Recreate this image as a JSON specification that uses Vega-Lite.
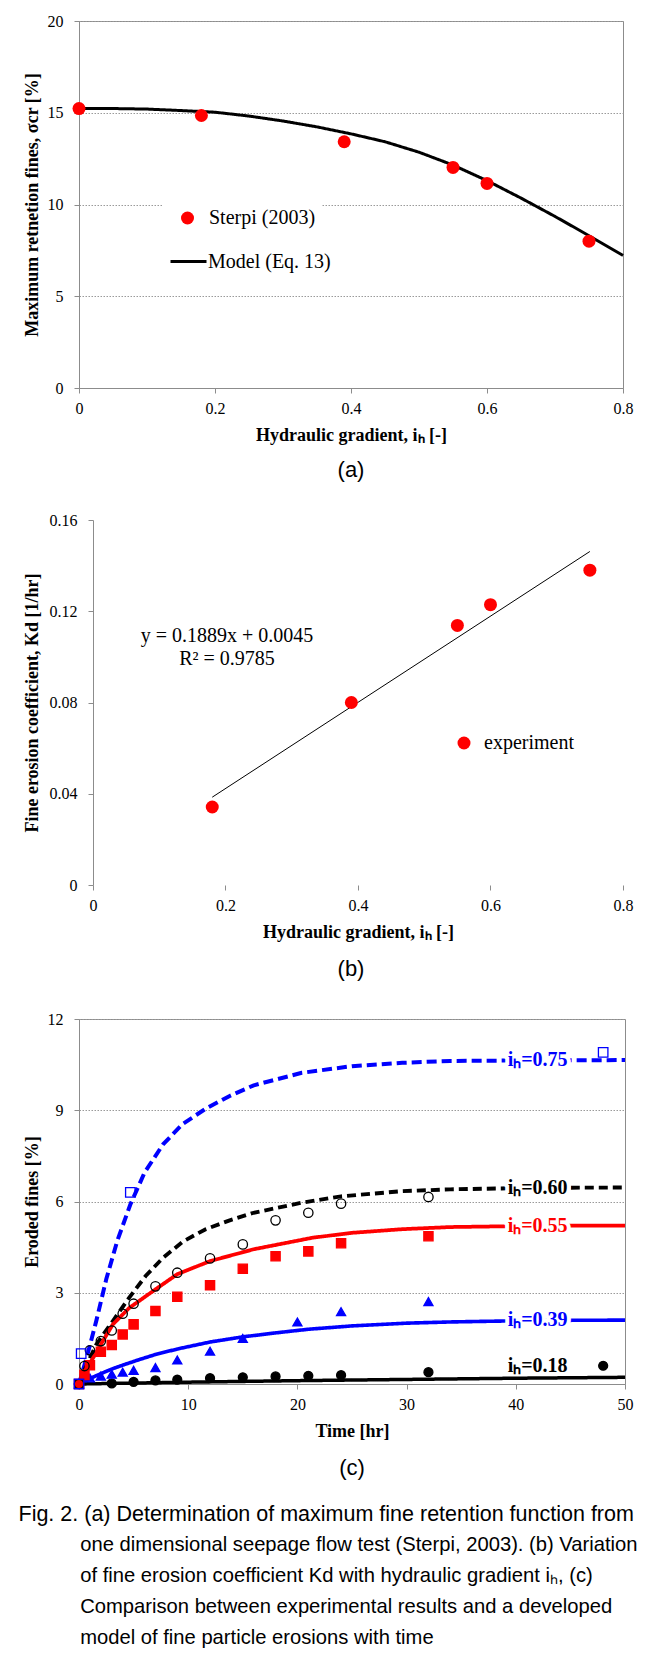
{
  "$schema": "https://vega.github.io/schema/vega-lite/v6.json",
  "background": "white",
  "padding": {"left": 18, "top": 12, "right": 0, "bottom": 0},
  "spacing": 30,
  "columns": 1,
  "resolve": {
    "scale": {"color": "independent", "fill": "independent", "stroke": "independent", "shape": "independent", "size": "independent", "strokeDash": "independent", "strokeWidth": "independent"},
    "legend": {"color": "independent", "strokeDash": "independent", "fill": "independent", "stroke": "independent", "shape": "independent", "size": "independent", "strokeWidth": "independent"}
  },
  "config": {
    "view": {"stroke": "#8c8c8c", "strokeWidth": 1},
    "axis": {
      "labelFont": "Liberation Serif", "labelFontSize": 16, "labelColor": "#000000",
      "titleFont": "Liberation Serif", "titleFontSize": 18, "titleFontWeight": "bold", "titleColor": "#000000",
      "domainColor": "#8c8c8c", "tickColor": "#8c8c8c", "tickSize": 5,
      "gridColor": "#9a9a9a", "gridDash": [1.5, 1.5], "labelFlush": false, "labelOverlap": false
    },
    "axisY": {"grid": true, "labelPadding": 11},
    "axisX": {"grid": false, "labelPadding": 7, "titlePadding": 10},
    "title": {"font": "Liberation Sans", "fontSize": 22, "fontWeight": "normal", "color": "#000000"}
  },
  "title": {
    "text": "Fig. 2. (a) Determination of maximum fine retention function from",
    "subtitle": [
      "\u200b\u00a0\u00a0\u00a0\u00a0\u00a0\u00a0\u00a0\u00a0\u00a0\u00a0\u00a0one dimensional seepage flow test (Sterpi, 2003). (b) Variation",
      "\u200b\u00a0\u00a0\u00a0\u00a0\u00a0\u00a0\u00a0\u00a0\u00a0\u00a0\u00a0of fine erosion coefficient Kd with hydraulic gradient iₕ, (c)",
      "\u200b\u00a0\u00a0\u00a0\u00a0\u00a0\u00a0\u00a0\u00a0\u00a0\u00a0\u00a0Comparison between experimental results and a developed",
      "\u200b\u00a0\u00a0\u00a0\u00a0\u00a0\u00a0\u00a0\u00a0\u00a0\u00a0\u00a0model of fine particle erosions with time"
    ],
    "orient": "bottom", "anchor": "start", "frame": "bounds", "offset": 24, "dx": -4, "fontSize": 21.5, "align": "left",
    "subtitleFont": "Liberation Sans", "subtitleFontSize": 20.2, "subtitleColor": "#000000", "subtitleLineHeight": 31, "subtitlePadding": 10
  },
  "datasets": {
    "a_pts": [
      {"ih": 0, "sigma": 15.23, "series": "Sterpi (2003)"},
      {"ih": 0.18, "sigma": 14.85, "series": "Sterpi (2003)"},
      {"ih": 0.39, "sigma": 13.42, "series": "Sterpi (2003)"},
      {"ih": 0.55, "sigma": 12.02, "series": "Sterpi (2003)"},
      {"ih": 0.6, "sigma": 11.15, "series": "Sterpi (2003)"},
      {"ih": 0.75, "sigma": 8.0, "series": "Sterpi (2003)"}
    ],
    "a_model": [
      {"ih": 0, "sigma": 15.24, "series": "Model (Eq. 13)"}, {"ih": 0.05, "sigma": 15.23, "series": "Model (Eq. 13)"},
      {"ih": 0.1, "sigma": 15.2, "series": "Model (Eq. 13)"}, {"ih": 0.15, "sigma": 15.12, "series": "Model (Eq. 13)"},
      {"ih": 0.2, "sigma": 15.03, "series": "Model (Eq. 13)"}, {"ih": 0.25, "sigma": 14.82, "series": "Model (Eq. 13)"},
      {"ih": 0.3, "sigma": 14.55, "series": "Model (Eq. 13)"}, {"ih": 0.35, "sigma": 14.23, "series": "Model (Eq. 13)"},
      {"ih": 0.4, "sigma": 13.85, "series": "Model (Eq. 13)"}, {"ih": 0.45, "sigma": 13.42, "series": "Model (Eq. 13)"},
      {"ih": 0.5, "sigma": 12.85, "series": "Model (Eq. 13)"}, {"ih": 0.55, "sigma": 12.15, "series": "Model (Eq. 13)"},
      {"ih": 0.6, "sigma": 11.3, "series": "Model (Eq. 13)"}, {"ih": 0.65, "sigma": 10.35, "series": "Model (Eq. 13)"},
      {"ih": 0.7, "sigma": 9.35, "series": "Model (Eq. 13)"}, {"ih": 0.75, "sigma": 8.3, "series": "Model (Eq. 13)"},
      {"ih": 0.8, "sigma": 7.22, "series": "Model (Eq. 13)"}
    ],
    "b_pts": [
      {"ih": 0.18, "kd": 0.0342, "series": "experiment"},
      {"ih": 0.39, "kd": 0.080, "series": "experiment"},
      {"ih": 0.55, "kd": 0.1138, "series": "experiment"},
      {"ih": 0.6, "kd": 0.1229, "series": "experiment"},
      {"ih": 0.75, "kd": 0.138, "series": "experiment"}
    ],
    "b_fit": [
      {"ih": 0.18, "kd": 0.0385},
      {"ih": 0.75, "kd": 0.1462}
    ],
    "b_notes": [
      {"ih": 0.2023, "kd": 0.1092, "note": "y = 0.1889x + 0.0045"},
      {"ih": 0.2023, "kd": 0.0991, "note": "R² = 0.9785"}
    ],
    "c_notes": [
      {"t": 42, "eroded": 0.59, "note": "iₕ=0.18"}
    ],
    "c_model": [
      {"series": "iₕ=0.75", "t": 0, "eroded": 0}, {"series": "iₕ=0.75", "t": 0.8, "eroded": 1.0},
      {"series": "iₕ=0.75", "t": 1.6, "eroded": 2.1}, {"series": "iₕ=0.75", "t": 2.5, "eroded": 3.45},
      {"series": "iₕ=0.75", "t": 3.5, "eroded": 4.7}, {"series": "iₕ=0.75", "t": 4.7, "eroded": 5.9},
      {"series": "iₕ=0.75", "t": 6, "eroded": 6.95}, {"series": "iₕ=0.75", "t": 7.7, "eroded": 7.88},
      {"series": "iₕ=0.75", "t": 9.5, "eroded": 8.55}, {"series": "iₕ=0.75", "t": 11.6, "eroded": 9.05},
      {"series": "iₕ=0.75", "t": 13.8, "eroded": 9.47}, {"series": "iₕ=0.75", "t": 16, "eroded": 9.82},
      {"series": "iₕ=0.75", "t": 20.4, "eroded": 10.23}, {"series": "iₕ=0.75", "t": 25, "eroded": 10.45},
      {"series": "iₕ=0.75", "t": 29.6, "eroded": 10.56}, {"series": "iₕ=0.75", "t": 34, "eroded": 10.62},
      {"series": "iₕ=0.75", "t": 42, "eroded": 10.64}, {"series": "iₕ=0.75", "t": 50, "eroded": 10.65},

      {"series": "iₕ=0.60", "t": 0, "eroded": 0}, {"series": "iₕ=0.60", "t": 0.5, "eroded": 0.45},
      {"series": "iₕ=0.60", "t": 1, "eroded": 0.85}, {"series": "iₕ=0.60", "t": 1.6, "eroded": 1.31},
      {"series": "iₕ=0.60", "t": 3.1, "eroded": 2.07}, {"series": "iₕ=0.60", "t": 4.6, "eroded": 2.84},
      {"series": "iₕ=0.60", "t": 6.1, "eroded": 3.55}, {"series": "iₕ=0.60", "t": 7.7, "eroded": 4.15},
      {"series": "iₕ=0.60", "t": 9.5, "eroded": 4.68}, {"series": "iₕ=0.60", "t": 11.6, "eroded": 5.09},
      {"series": "iₕ=0.60", "t": 13.8, "eroded": 5.38}, {"series": "iₕ=0.60", "t": 16, "eroded": 5.63},
      {"series": "iₕ=0.60", "t": 20.4, "eroded": 5.96}, {"series": "iₕ=0.60", "t": 24, "eroded": 6.17},
      {"series": "iₕ=0.60", "t": 29.6, "eroded": 6.34}, {"series": "iₕ=0.60", "t": 34, "eroded": 6.4},
      {"series": "iₕ=0.60", "t": 42, "eroded": 6.45}, {"series": "iₕ=0.60", "t": 50, "eroded": 6.46},

      {"series": "iₕ=0.55", "t": 0, "eroded": 0}, {"series": "iₕ=0.55", "t": 0.5, "eroded": 0.4},
      {"series": "iₕ=0.55", "t": 1.3, "eroded": 0.86}, {"series": "iₕ=0.55", "t": 2, "eroded": 1.3},
      {"series": "iₕ=0.55", "t": 3.1, "eroded": 1.96}, {"series": "iₕ=0.55", "t": 4.6, "eroded": 2.5},
      {"series": "iₕ=0.55", "t": 7, "eroded": 3.11}, {"series": "iₕ=0.55", "t": 9, "eroded": 3.61},
      {"series": "iₕ=0.55", "t": 12, "eroded": 4.04}, {"series": "iₕ=0.55", "t": 16, "eroded": 4.43},
      {"series": "iₕ=0.55", "t": 21.4, "eroded": 4.81}, {"series": "iₕ=0.55", "t": 25, "eroded": 4.97},
      {"series": "iₕ=0.55", "t": 29.6, "eroded": 5.09}, {"series": "iₕ=0.55", "t": 34, "eroded": 5.16},
      {"series": "iₕ=0.55", "t": 42, "eroded": 5.2}, {"series": "iₕ=0.55", "t": 50, "eroded": 5.21},

      {"series": "iₕ=0.39", "t": 0, "eroded": 0}, {"series": "iₕ=0.39", "t": 1, "eroded": 0.18},
      {"series": "iₕ=0.39", "t": 2, "eroded": 0.34}, {"series": "iₕ=0.39", "t": 3, "eroded": 0.49},
      {"series": "iₕ=0.39", "t": 4, "eroded": 0.62}, {"series": "iₕ=0.39", "t": 5.5, "eroded": 0.8},
      {"series": "iₕ=0.39", "t": 7, "eroded": 0.97}, {"series": "iₕ=0.39", "t": 9, "eroded": 1.15},
      {"series": "iₕ=0.39", "t": 12, "eroded": 1.38}, {"series": "iₕ=0.39", "t": 15, "eroded": 1.55},
      {"series": "iₕ=0.39", "t": 18, "eroded": 1.68}, {"series": "iₕ=0.39", "t": 21, "eroded": 1.8},
      {"series": "iₕ=0.39", "t": 25, "eroded": 1.91}, {"series": "iₕ=0.39", "t": 30, "eroded": 2.0},
      {"series": "iₕ=0.39", "t": 34, "eroded": 2.04}, {"series": "iₕ=0.39", "t": 42, "eroded": 2.09},
      {"series": "iₕ=0.39", "t": 50, "eroded": 2.1},

      {"series": "iₕ=0.18", "t": 0, "eroded": 0}, {"series": "iₕ=0.18", "t": 5, "eroded": 0.03},
      {"series": "iₕ=0.18", "t": 10, "eroded": 0.06}, {"series": "iₕ=0.18", "t": 20, "eroded": 0.11},
      {"series": "iₕ=0.18", "t": 30, "eroded": 0.15}, {"series": "iₕ=0.18", "t": 40, "eroded": 0.19},
      {"series": "iₕ=0.18", "t": 50, "eroded": 0.22}
    ],
    "c_pts": [
      {"series": "iₕ=0.18", "t": 0, "eroded": 0}, {"series": "iₕ=0.18", "t": 3, "eroded": 0.02},
      {"series": "iₕ=0.18", "t": 5, "eroded": 0.07}, {"series": "iₕ=0.18", "t": 7, "eroded": 0.12},
      {"series": "iₕ=0.18", "t": 9, "eroded": 0.14}, {"series": "iₕ=0.18", "t": 12, "eroded": 0.19},
      {"series": "iₕ=0.18", "t": 15, "eroded": 0.22}, {"series": "iₕ=0.18", "t": 18, "eroded": 0.25},
      {"series": "iₕ=0.18", "t": 21, "eroded": 0.27}, {"series": "iₕ=0.18", "t": 24, "eroded": 0.29},
      {"series": "iₕ=0.18", "t": 32, "eroded": 0.39}, {"series": "iₕ=0.18", "t": 48, "eroded": 0.6},

      {"series": "iₕ=0.39", "t": 0, "eroded": 0}, {"series": "iₕ=0.39", "t": 1, "eroded": 0.2},
      {"series": "iₕ=0.39", "t": 2, "eroded": 0.26}, {"series": "iₕ=0.39", "t": 3, "eroded": 0.32},
      {"series": "iₕ=0.39", "t": 4, "eroded": 0.39}, {"series": "iₕ=0.39", "t": 5, "eroded": 0.45},
      {"series": "iₕ=0.39", "t": 7, "eroded": 0.54}, {"series": "iₕ=0.39", "t": 9, "eroded": 0.79},
      {"series": "iₕ=0.39", "t": 12, "eroded": 1.08}, {"series": "iₕ=0.39", "t": 15, "eroded": 1.5},
      {"series": "iₕ=0.39", "t": 20, "eroded": 2.04}, {"series": "iₕ=0.39", "t": 24, "eroded": 2.38},
      {"series": "iₕ=0.39", "t": 32, "eroded": 2.71},

      {"series": "iₕ=0.55", "t": 0, "eroded": 0}, {"series": "iₕ=0.55", "t": 0.5, "eroded": 0.3},
      {"series": "iₕ=0.55", "t": 1, "eroded": 0.62}, {"series": "iₕ=0.55", "t": 2, "eroded": 1.06},
      {"series": "iₕ=0.55", "t": 3, "eroded": 1.28}, {"series": "iₕ=0.55", "t": 4, "eroded": 1.63},
      {"series": "iₕ=0.55", "t": 5, "eroded": 1.96}, {"series": "iₕ=0.55", "t": 7, "eroded": 2.4},
      {"series": "iₕ=0.55", "t": 9, "eroded": 2.87}, {"series": "iₕ=0.55", "t": 12, "eroded": 3.25},
      {"series": "iₕ=0.55", "t": 15, "eroded": 3.79}, {"series": "iₕ=0.55", "t": 18, "eroded": 4.2},
      {"series": "iₕ=0.55", "t": 21, "eroded": 4.36}, {"series": "iₕ=0.55", "t": 24, "eroded": 4.63},
      {"series": "iₕ=0.55", "t": 32, "eroded": 4.86},

      {"series": "iₕ=0.60", "t": 0, "eroded": 0}, {"series": "iₕ=0.60", "t": 0.5, "eroded": 0.59},
      {"series": "iₕ=0.60", "t": 1, "eroded": 1.11}, {"series": "iₕ=0.60", "t": 2, "eroded": 1.41},
      {"series": "iₕ=0.60", "t": 3, "eroded": 1.76}, {"series": "iₕ=0.60", "t": 4, "eroded": 2.31},
      {"series": "iₕ=0.60", "t": 5, "eroded": 2.64}, {"series": "iₕ=0.60", "t": 7, "eroded": 3.21},
      {"series": "iₕ=0.60", "t": 9, "eroded": 3.66}, {"series": "iₕ=0.60", "t": 12, "eroded": 4.13},
      {"series": "iₕ=0.60", "t": 15, "eroded": 4.59}, {"series": "iₕ=0.60", "t": 18, "eroded": 5.38},
      {"series": "iₕ=0.60", "t": 21, "eroded": 5.63}, {"series": "iₕ=0.60", "t": 24, "eroded": 5.93},
      {"series": "iₕ=0.60", "t": 32, "eroded": 6.15},

      {"series": "iₕ=0.75", "t": 0, "eroded": 0}, {"series": "iₕ=0.75", "t": 0.2, "eroded": 1.0},
      {"series": "iₕ=0.75", "t": 4.7, "eroded": 6.3}, {"series": "iₕ=0.75", "t": 48, "eroded": 10.9}
    ]
  },
  "concat": [
    {
      "width": 544, "height": 367,
      "title": {"text": "(a)", "orient": "bottom", "anchor": "middle", "offset": 16},
      "encoding": {
        "x": {"field": "ih", "type": "quantitative", "scale": {"domain": [0, 0.8], "nice": false},
          "axis": {"values": [0, 0.2, 0.4, 0.6, 0.8], "format": "~g", "title": "Hydraulic gradient, iₕ [-]"}},
        "y": {"field": "sigma", "type": "quantitative", "scale": {"domain": [0, 20], "nice": false},
          "axis": {"values": [0, 5, 10, 15, 20], "title": "Maximum retnetion fines, σcr [%]", "minExtent": 32, "maxExtent": 32, "titlePadding": 6}}
      },
      "layer": [
        {
          "data": {"name": "a_model"},
          "mark": {"type": "line", "color": "#000000", "strokeWidth": 3},
          "encoding": {
            "strokeDash": {"field": "series", "type": "nominal", "scale": {"domain": ["Model (Eq. 13)"], "range": [[1, 0]]},
              "legend": {
                "orient": "none", "legendX": 90, "legendY": 221, "title": null,
                "labelFont": "Liberation Serif", "labelFontSize": 20, "labelColor": "#000000", "labelOffset": 0, "labelLimit": 300,
                "symbolType": "stroke", "symbolSize": 1296, "symbolStrokeWidth": 3, "symbolStrokeColor": "#000000", "padding": 0
              }
            }
          }
        },
        {
          "data": {"name": "a_pts"},
          "mark": {"type": "point", "filled": true, "size": 169, "opacity": 1},
          "encoding": {
            "color": {"field": "series", "type": "nominal", "scale": {"domain": ["Sterpi (2003)"], "range": ["#ff0000"]},
              "legend": {
                "orient": "none", "legendX": 84, "legendY": 181, "title": null,
                "labelFont": "Liberation Serif", "labelFontSize": 20, "labelColor": "#000000", "labelOffset": 11.5, "labelLimit": 300,
                "fillColor": "white", "padding": 6, "symbolOffset": 8.5,
                "symbolType": "circle", "symbolSize": 169, "symbolStrokeWidth": 0, "symbolOpacity": 1
              }
            }
          }
        },
        {"data": {"values": [{}]}, "mark": {"type": "rule", "color": "#000000", "strokeWidth": 1.5}, "encoding": {"y": {"datum": 20}, "x": null}}
      ]
    },
    {
      "width": 544, "height": 365,
      "view": {"stroke": null},
      "title": {"text": "(b)", "orient": "bottom", "anchor": "middle", "offset": 18},
      "encoding": {
        "x": {"field": "ih", "type": "quantitative", "scale": {"domain": [-0.02113, 0.8], "nice": false, "zero": false},
          "axis": {"values": [0, 0.2, 0.4, 0.6, 0.8], "format": "~g", "title": "Hydraulic gradient, iₕ [-]", "domain": false, "titleX": 279}},
        "y": {"field": "kd", "type": "quantitative", "scale": {"domain": [0, 0.16], "nice": false},
          "axis": {"values": [0, 0.04, 0.08, 0.12, 0.16], "format": "~g", "title": "Fine erosion coefficient, Kd [1/hr]", "minExtent": 44, "maxExtent": 44, "titlePadding": 8, "offset": -14, "grid": false}}
      },
      "layer": [
        {"data": {"values": [{}]}, "mark": {"type": "rule", "color": "#9a9a9a", "strokeWidth": 1, "strokeDash": [1.5, 1.5]},
          "encoding": {"x": {"datum": 0}, "x2": {"datum": 0.8}, "y": {"datum": 0.04}}},
        {"data": {"values": [{}]}, "mark": {"type": "rule", "color": "#9a9a9a", "strokeWidth": 1, "strokeDash": [1.5, 1.5]},
          "encoding": {"x": {"datum": 0}, "x2": {"datum": 0.8}, "y": {"datum": 0.08}}},
        {"data": {"values": [{}]}, "mark": {"type": "rule", "color": "#9a9a9a", "strokeWidth": 1, "strokeDash": [1.5, 1.5]},
          "encoding": {"x": {"datum": 0}, "x2": {"datum": 0.8}, "y": {"datum": 0.12}}},
        {"data": {"values": [{}]}, "mark": {"type": "rule", "color": "#8c8c8c", "strokeWidth": 1},
          "encoding": {"x": {"datum": 0}, "x2": {"datum": 0.8}, "y": {"datum": 0}}},
        {"data": {"values": [{}]}, "mark": {"type": "rule", "color": "#8c8c8c", "strokeWidth": 1},
          "encoding": {"x": {"datum": 0.8}, "y": {"datum": 0}, "y2": {"datum": 0.16}}},
        {"data": {"name": "b_fit"}, "mark": {"type": "line", "color": "#000000", "strokeWidth": 1}},
        {
          "data": {"name": "b_pts"},
          "mark": {"type": "point", "filled": true, "size": 169, "opacity": 1},
          "encoding": {
            "color": {"field": "series", "type": "nominal", "scale": {"domain": ["experiment"], "range": ["#ff0000"]},
              "legend": {
                "orient": "none", "legendX": 375, "legendY": 213, "title": null,
                "labelFont": "Liberation Serif", "labelFontSize": 20, "labelColor": "#000000", "labelOffset": 10,
                "symbolSize": 169, "symbolType": "circle", "symbolStrokeWidth": 0, "symbolOpacity": 1, "padding": 0
              }
            }
          }
        },
        {"data": {"name": "b_notes"},
          "mark": {"type": "text", "font": "Liberation Serif", "fontSize": 20, "align": "center", "baseline": "middle", "color": "#000000"},
          "encoding": {"text": {"field": "note", "type": "nominal"}}},
        {"data": {"values": [{}]}, "mark": {"type": "rule", "color": "#000000", "strokeWidth": 2.5},
          "encoding": {"x": {"datum": 0}, "x2": {"datum": 0.8}, "y": {"datum": 0.16}}}
      ]
    },
    {
      "width": 546, "height": 365,
      "title": {"text": "(c)", "orient": "bottom", "anchor": "middle", "offset": 18},
      "encoding": {
        "x": {"field": "t", "type": "quantitative", "scale": {"domain": [0, 50], "nice": false},
          "axis": {"values": [0, 10, 20, 30, 40, 50], "title": "Time [hr]"}},
        "y": {"field": "eroded", "type": "quantitative", "scale": {"domain": [0, 12], "nice": false},
          "axis": {"values": [0, 3, 6, 9, 12], "title": "Eroded fines [%]", "minExtent": 32, "maxExtent": 32, "titlePadding": 6}}
      },
      "layer": [
        {
          "data": {"name": "c_model"},
          "mark": {"type": "line"},
          "encoding": {
            "color": {"field": "series", "type": "nominal", "legend": null,
              "scale": {"domain": ["iₕ=0.75", "iₕ=0.60", "iₕ=0.55", "iₕ=0.39", "iₕ=0.18"], "range": ["#0000ff", "#000000", "#ff0000", "#0000ff", "#000000"]}},
            "strokeDash": {"field": "series", "type": "nominal", "legend": null,
              "scale": {"domain": ["iₕ=0.75", "iₕ=0.60", "iₕ=0.55", "iₕ=0.39", "iₕ=0.18"], "range": [[10, 5], [9, 5], [1, 0], [1, 0], [1, 0]]}},
            "strokeWidth": {"field": "series", "type": "nominal", "legend": null,
              "scale": {"domain": ["iₕ=0.75", "iₕ=0.60", "iₕ=0.55", "iₕ=0.39", "iₕ=0.18"], "range": [4, 3.5, 2.5, 3, 2]}}
          }
        },
        {
          "data": {"name": "c_pts"},
          "mark": {"type": "point", "strokeWidth": 1.3, "opacity": 1},
          "encoding": {
            "shape": {"field": "series", "type": "nominal", "legend": null,
              "scale": {"domain": ["iₕ=0.75", "iₕ=0.60", "iₕ=0.55", "iₕ=0.39", "iₕ=0.18"], "range": ["square", "circle", "square", "triangle-up", "circle"]}},
            "fill": {"field": "series", "type": "nominal", "legend": null,
              "scale": {"domain": ["iₕ=0.75", "iₕ=0.60", "iₕ=0.55", "iₕ=0.39", "iₕ=0.18"], "range": ["transparent", "transparent", "#ff0000", "#0000ff", "#000000"]}},
            "stroke": {"field": "series", "type": "nominal", "legend": null,
              "scale": {"domain": ["iₕ=0.75", "iₕ=0.60", "iₕ=0.55", "iₕ=0.39", "iₕ=0.18"], "range": ["#0000ff", "#000000", "#ff0000", "#0000ff", "#000000"]}},
            "size": {"field": "series", "type": "nominal", "legend": null,
              "scale": {"domain": ["iₕ=0.75", "iₕ=0.60", "iₕ=0.55", "iₕ=0.39", "iₕ=0.18"], "range": [90, 80, 50, 120, 38]}}
          }
        },
        {
          "data": {"name": "c_model"},
          "transform": [{"filter": "datum.t === 42 && datum.series !== 'iₕ=0.18'"}],
          "mark": {"type": "text", "font": "Liberation Serif", "fontSize": 20, "fontWeight": "bold", "align": "center", "baseline": "middle", "color": "white", "stroke": "white", "strokeWidth": 8, "strokeJoin": "round"},
          "encoding": {"text": {"field": "series"}}
        },
        {
          "data": {"name": "c_model"},
          "transform": [{"filter": "datum.t === 42 && datum.series !== 'iₕ=0.18'"}],
          "mark": {"type": "text", "font": "Liberation Serif", "fontSize": 20, "fontWeight": "bold", "align": "center", "baseline": "middle"},
          "encoding": {
            "text": {"field": "series"},
            "color": {"field": "series", "type": "nominal", "legend": null}
          }
        },
        {"data": {"name": "c_notes"},
          "mark": {"type": "text", "font": "Liberation Serif", "fontSize": 20, "fontWeight": "bold", "align": "center", "baseline": "middle", "color": "#000000"},
          "encoding": {"text": {"field": "note", "type": "nominal"}}},
        {"data": {"values": [{}]}, "mark": {"type": "rule", "color": "#555555", "strokeWidth": 1.5}, "encoding": {"y": {"datum": 12}, "x": null}}
      ]
    }
  ]
}
